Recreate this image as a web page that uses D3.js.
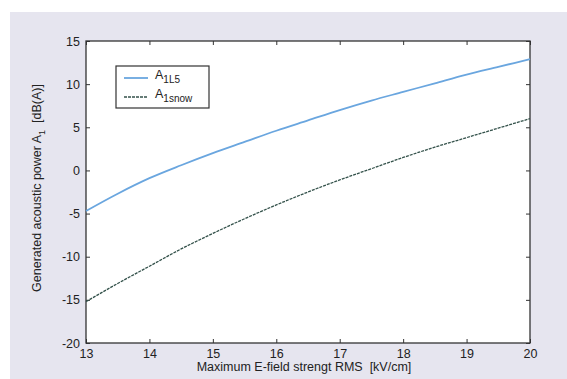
<!DOCTYPE html>
<html>
<head>
<meta charset="utf-8">
<script src="https://cdn.jsdelivr.net/npm/d3@7"></script>
<style>
  body { margin: 0; background: #fff; }
  svg { display: block; font-family: "Liberation Sans", Arial, sans-serif; }
  text { white-space: pre; }
</style>
</head>
<body>
<div id="chart"></div>
<script>
// field strength [kV/cm]
const fieldKV = [13, 13.5, 14, 14.5, 15, 15.5, 16, 16.5, 17, 17.5, 18, 18.5, 19, 19.5, 20];
// A1L5 curve [dB(A)]
const a1L5 = [-4.7, -2.7, -0.9, 0.6, 2.0, 3.3, 4.6, 5.8, 7.0, 8.1, 9.1, 10.1, 11.1, 12.0, 12.9];
// A1snow curve [dB(A)]
const a1Snow = [-15.2, -13.1, -11.1, -9.1, -7.3, -5.6, -4.0, -2.5, -1.1, 0.2, 1.5, 2.7, 3.8, 4.9, 6.0];
const xTicks = [13, 14, 15, 16, 17, 18, 19, 20];
const yTicks = [-20, -15, -10, -5, 0, 5, 10, 15];

const width = 567, height = 379;
const margin = { left: 86, right: 37, top: 41, bottom: 36 };

const svg = d3.select('#chart').append('svg')
  .attr('width', width)
  .attr('height', height);

// grey page background
svg.append('rect')
  .attr('x', 10).attr('y', 12)
  .attr('width', width - 10).attr('height', height - 12)
  .attr('fill', '#e6e5ef');

const x = d3.scaleLinear().domain([13, 20]).range([margin.left, width - margin.right]);
const y = d3.scaleLinear().domain([-20, 15]).range([height - margin.bottom, margin.top]);

svg.append('rect')
  .attr('x', margin.left).attr('y', margin.top)
  .attr('width', x(20) - x(13)).attr('height', y(-20) - y(15))
  .attr('fill', '#fff');

const tickLen = 4;
const styleAxis = g => {
  g.select('.domain').remove();
  g.selectAll('line').attr('stroke', '#333');
  g.selectAll('text').attr('fill', '#222').style('font-size', '12.5px');
};

// bottom / left with labels, ticks pointing inward
svg.append('g')
  .attr('transform', `translate(0,${y(-20)})`)
  .call(d3.axisBottom(x).tickValues(xTicks).tickSize(-tickLen).tickPadding(6).tickFormat(d => String(d)))
  .call(styleAxis);

svg.append('g')
  .attr('transform', `translate(${x(13)},0)`)
  .call(d3.axisLeft(y).tickValues(yTicks).tickSize(-tickLen).tickPadding(6).tickFormat(d => String(d)))
  .call(styleAxis);

// top / right ticks only
svg.append('g')
  .attr('transform', `translate(0,${y(15)})`)
  .call(d3.axisTop(x).tickValues(xTicks).tickSize(-tickLen).tickFormat(''))
  .call(styleAxis);

svg.append('g')
  .attr('transform', `translate(${x(20)},0)`)
  .call(d3.axisRight(y).tickValues(yTicks).tickSize(-tickLen).tickFormat(''))
  .call(styleAxis);

svg.append('rect')
  .attr('x', margin.left).attr('y', margin.top)
  .attr('width', x(20) - x(13)).attr('height', y(-20) - y(15))
  .attr('fill', 'none')
  .attr('stroke', '#333')
  .attr('stroke-width', 1.3);

const line = d3.line()
  .x((d, i) => x(fieldKV[i]))
  .y(d => y(d))
  .curve(d3.curveMonotoneX);

svg.append('path')
  .datum(a1Snow)
  .attr('d', line)
  .attr('fill', 'none')
  .attr('stroke', '#34524b')
  .attr('stroke-width', 1.3)
  .attr('stroke-dasharray', '3,1');

svg.append('path')
  .datum(a1L5)
  .attr('d', line)
  .attr('fill', 'none')
  .attr('stroke', '#6aa6df')
  .attr('stroke-width', 1.8);

// legend
const lg = svg.append('g').attr('transform', 'translate(116,66)');
lg.append('rect')
  .attr('width', 93).attr('height', 42)
  .attr('fill', '#fff')
  .attr('stroke', '#333')
  .attr('stroke-width', 1.2);

const legendItems = [
  { name: 'A', sub: '1L5', color: '#6aa6df', w: 1.8, dash: null },
  { name: 'A', sub: '1snow', color: '#34524b', w: 1.3, dash: '3,1' }
];
legendItems.forEach((d, i) => {
  const yy = 12 + i * 19;
  lg.append('line')
    .attr('x1', 8).attr('x2', 32)
    .attr('y1', yy).attr('y2', yy)
    .attr('stroke', d.color)
    .attr('stroke-width', d.w)
    .attr('stroke-dasharray', d.dash);
  const t = lg.append('text')
    .attr('x', 39).attr('y', yy + 1)
    .attr('fill', '#222')
    .style('font-size', '12.5px');
  t.append('tspan').text(d.name);
  t.append('tspan').attr('dy', 4).style('font-size', '10px').text(d.sub);
});

// axis titles
svg.append('text')
  .attr('x', (x(13) + x(20)) / 2 - 4)
  .attr('y', 371)
  .attr('text-anchor', 'middle')
  .attr('fill', '#222')
  .style('font-size', '12.5px')
  .text('Maximum E-field strengt RMS  [kV/cm]');

const yl = svg.append('text')
  .attr('transform', `translate(41,${(y(15) + y(-20)) / 2 - 4}) rotate(-90)`)
  .attr('text-anchor', 'middle')
  .attr('fill', '#222')
  .style('font-size', '12.5px');
yl.append('tspan').text('Generated acoustic power A');
yl.append('tspan').attr('dy', 4).style('font-size', '9px').text('1');
yl.append('tspan').attr('dy', -4).text('  [dB(A)]');
</script>
</body>
</html>
